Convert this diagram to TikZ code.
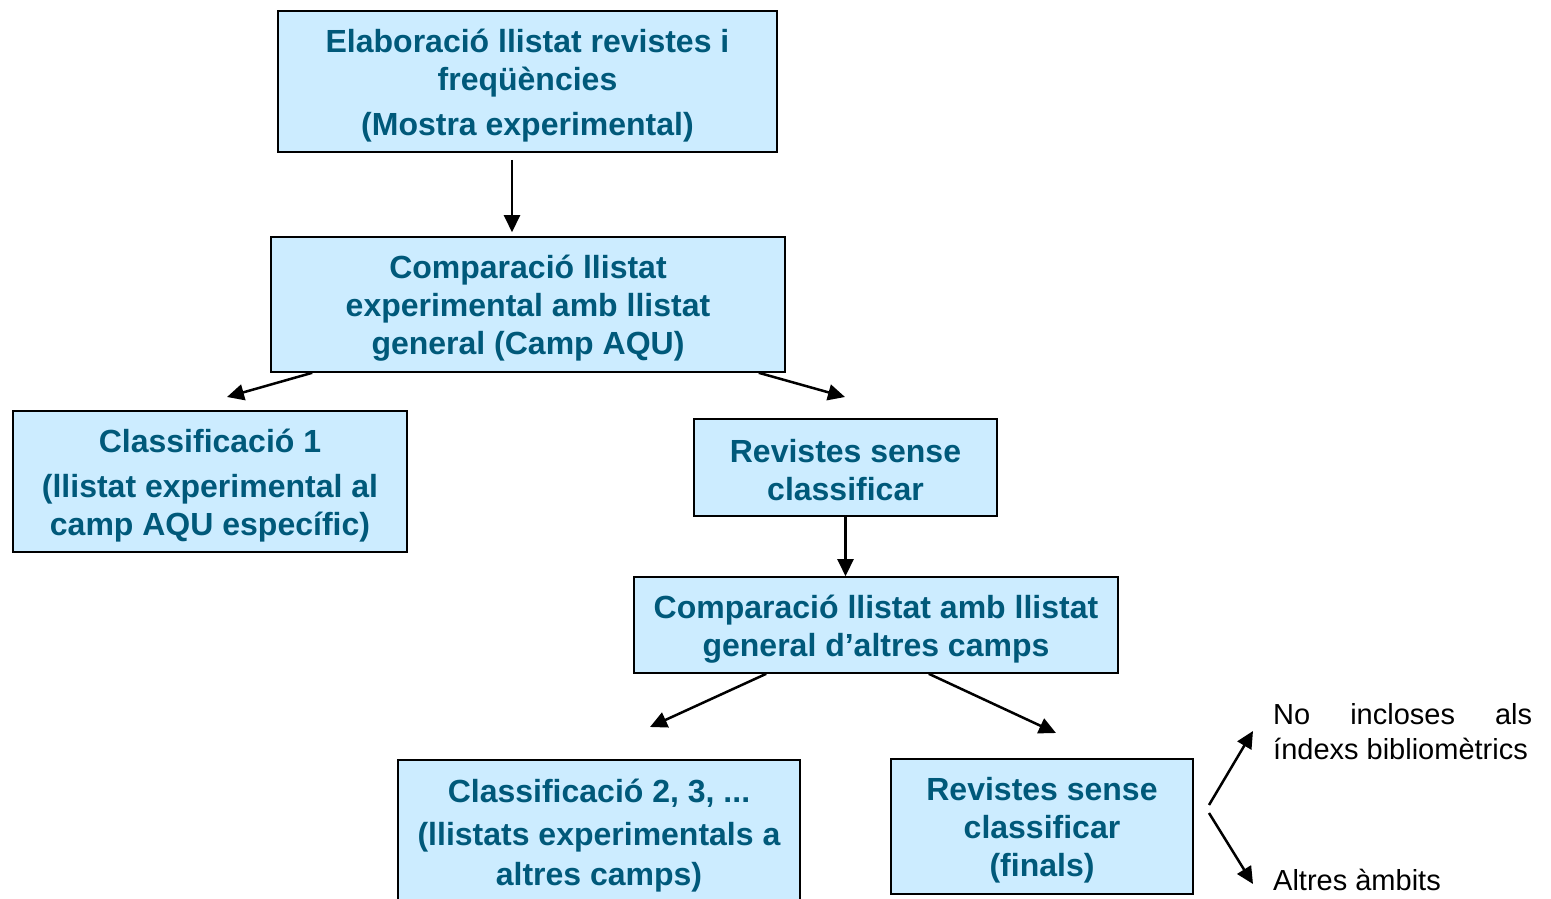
\documentclass[tikz,border=0pt]{standalone}
\usepackage{fontspec}
\setmainfont{Liberation Sans}
\usetikzlibrary{arrows.meta,calc}
\definecolor{boxfill}{HTML}{CCECFF}
\definecolor{boxtext}{HTML}{00597A}
\newcommand\tA{\rule{0pt}{31pt}}
\newcommand\tB{\rule[-4pt]{0pt}{4pt}}
\begin{document}
\begin{tikzpicture}[x=1pt,y=-1pt,
  flowbox/.style={draw=black,line width=1.6pt,fill=boxfill,text=boxtext,inner sep=0pt,
    align=center,font=\fontsize{32}{38}\selectfont\bfseries},
  arr/.style={line width=2.5pt,-{Triangle[length=17pt,width=16pt]}},
  plain/.style={inner sep=0pt,font=\fontsize{29}{35}\selectfont,text=black,align=left}]
\useasboundingbox (0,0) rectangle (1551,899);
\clip (0,0) rectangle (1551,899);
\node[flowbox,minimum width=499pt,minimum height=141pt] (b1) at (527.5,81.5)
  {\tA Elaboració llistat revistes i\\freqüències\\[7pt](Mostra experimental)\tB};
\node[flowbox,minimum width=514pt,minimum height=135pt] (b2) at (528,304.5)
  {\tA Comparació llistat\\experimental amb llistat\\general (Camp AQU)\tB};
\node[flowbox,minimum width=394pt,minimum height=141pt] (b3) at (210,481.5)
  {\tA Classificació 1\\[7pt](llistat experimental al\\camp AQU específic)\tB};
\node[flowbox,minimum width=303pt,minimum height=97pt] (b4) at (845.5,467.5)
  {\tA Revistes sense\\classificar\tB};
\node[flowbox,minimum width=484pt,minimum height=96pt] (b5) at (876,625)
  {\tA Comparació llistat amb llistat\\general d’altres camps\tB};
\node[flowbox,minimum width=402pt,minimum height=143pt] (b6) at (599,831.5)
  {\tA Classificació 2, 3, ...\\[5pt](llistats experimentals a\\[2pt]altres camps)\tB};
\node[flowbox,minimum width=302pt,minimum height=135pt] (b7) at (1042,826.5)
  {\tA Revistes sense\\classificar\\(finals)\tB};
\node[plain,anchor=west] (t1) at (1273,732)
  {\makebox[259pt][l]{No\hfill incloses\hfill als}\\índexs bibliomètrics};
\node[plain,anchor=west] (t2) at (1273,880) {Altres àmbits};
\coordinate (e2l) at (227,397);
\coordinate (e2r) at (845,397);
\coordinate (e5l) at (650,727);
\coordinate (e5r) at (1056,733);
\coordinate (s7u) at (1209,805);
\coordinate (s7d) at (1209,813);
\coordinate (e7u) at (1253,731);
\coordinate (e7d) at (1253,884);
\draw[arr] ([xshift=-15.5pt,yshift=-7pt]b1.south) -- ([xshift=-16pt,yshift=4pt]b2.north);
\draw[arr] ([xshift=42pt]b2.south west) -- (e2l);
\draw[arr] ([xshift=-27pt]b2.south east) -- (e2r);
\draw[arr] (b4.south) -- (b4.south |- b5.north);
\draw[arr] ([xshift=133pt]b5.south west) -- (e5l);
\draw[arr] ([xshift=-190pt]b5.south east) -- (e5r);
\draw[arr] (s7u) -- (e7u);
\draw[arr] (s7d) -- (e7d);
\end{tikzpicture}
\end{document}
